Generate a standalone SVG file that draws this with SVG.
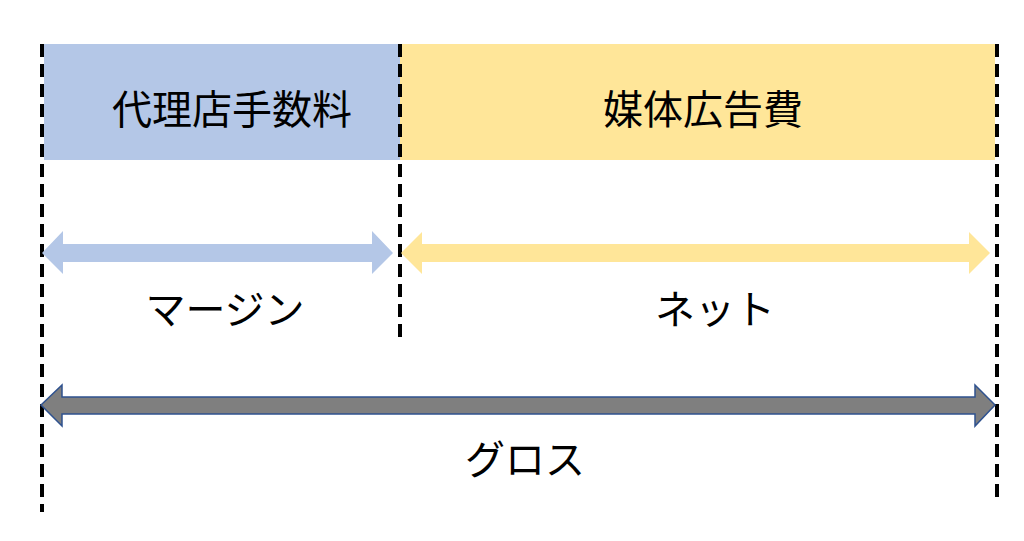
<svg xmlns="http://www.w3.org/2000/svg" width="1024" height="541" viewBox="0 0 1024 541">
<style>
.t{font-family:"Noto Sans CJK JP","Noto Sans",sans-serif;font-size:40px;fill:#000;text-anchor:middle}
.d{stroke:#000;stroke-width:4;stroke-dasharray:13 7;fill:none}
</style>
<rect width="1024" height="541" fill="#fff"/>
<g id="fee"><rect x="44" y="44" width="356" height="116" fill="#B4C7E7"/><text class="t" x="232" y="124">代理店手数料</text></g>
<g id="media"><rect x="400" y="44" width="595" height="116" fill="#FFE699"/><text class="t" x="703" y="124">媒体広告費</text></g>
<g id="connectors">
<line class="d" x1="42" y1="44" x2="42" y2="512"/>
<line class="d" x1="400" y1="44" x2="400" y2="344"/>
<line class="d" x1="997" y1="44" x2="997" y2="502"/>
<polygon fill="#B4C7E7" points="42,253 63,231 63,244 372,244 372,231 393,253 372,274 372,262 63,262 63,274"/>
<polygon fill="#FFE699" points="401,253 422,232 422,244 969,244 969,232 990,253 969,274 969,262 422,262 422,274"/>
<polygon fill="#7F7F7F" stroke="#2F528F" stroke-width="1.5" points="41,405 62,385 62,397 975,397 975,385 995,405 975,426 975,414 62,414 62,426"/>
</g>
<g id="margin"><text class="t" x="225" y="324">マージン</text></g>
<g id="net"><text class="t" x="715" y="324">ネット</text></g>
<g id="gross"><text class="t" x="525" y="474">グロス</text></g>
</svg>
